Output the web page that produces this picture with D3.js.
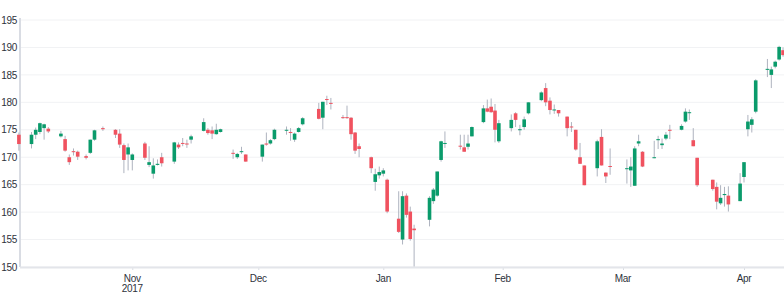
<!DOCTYPE html>
<html>
<head>
<meta charset="utf-8">
<script src="https://cdn.jsdelivr.net/npm/d3@7"></script>
<style>
  body { margin: 0; background: #fff; }
  svg { display: block; font-family: "Liberation Sans", Arial, sans-serif; }
</style>
</head>
<body>
<svg id="chart" width="784" height="300"></svg>
<script>
// daily candles, Oct 2017 - Apr 2018
const dates = [
  // Oct
  "2017-10-05","2017-10-08","2017-10-09","2017-10-10","2017-10-11","2017-10-12","2017-10-15","2017-10-16",
  "2017-10-17","2017-10-18","2017-10-19","2017-10-21","2017-10-22","2017-10-23","2017-10-25","2017-10-28",
  "2017-10-29","2017-10-30","2017-10-31",
  // Nov
  "2017-11-01","2017-11-04","2017-11-05","2017-11-06","2017-11-07","2017-11-08","2017-11-11","2017-11-12",
  "2017-11-13","2017-11-14","2017-11-15","2017-11-18","2017-11-19","2017-11-20","2017-11-21","2017-11-22",
  "2017-11-25","2017-11-26","2017-11-27","2017-11-28",
  // Dec
  "2017-12-02","2017-12-03","2017-12-04","2017-12-05","2017-12-08","2017-12-09","2017-12-10","2017-12-11",
  "2017-12-12","2017-12-16","2017-12-17","2017-12-18","2017-12-19","2017-12-22","2017-12-23","2017-12-24",
  "2017-12-25","2017-12-26","2017-12-29","2017-12-30","2017-12-31",
  // Jan
  "2018-01-01","2018-01-02","2018-01-05","2018-01-06","2018-01-07","2018-01-08","2018-01-09","2018-01-13",
  "2018-01-14","2018-01-15","2018-01-16","2018-01-17","2018-01-21","2018-01-22","2018-01-23","2018-01-24",
  "2018-01-27","2018-01-28","2018-01-29","2018-01-30","2018-01-31",
  // Feb
  "2018-02-03","2018-02-04","2018-02-05","2018-02-06","2018-02-07","2018-02-10","2018-02-11","2018-02-12",
  "2018-02-13","2018-02-14","2018-02-16","2018-02-17","2018-02-18","2018-02-19","2018-02-20","2018-02-23",
  "2018-02-24","2018-02-25","2018-02-26",
  // Mar
  "2018-03-02","2018-03-03","2018-03-04","2018-03-05","2018-03-06","2018-03-09","2018-03-10","2018-03-11",
  "2018-03-12","2018-03-13","2018-03-16","2018-03-17","2018-03-18","2018-03-19","2018-03-20","2018-03-24",
  "2018-03-25","2018-03-26","2018-03-27","2018-03-28","2018-03-31",
  // Apr
  "2018-04-01","2018-04-02","2018-04-03","2018-04-04","2018-04-07","2018-04-08","2018-04-09","2018-04-10",
  "2018-04-11"
];

const opens = [
  174.1,172.4,174.1,174.6,175.3,175.2,173.8,173.3,170.0,171.1,171.0,170.2,170.8,173.2,175.3,175.0,174.3,172.2,170.5,
  169.5,172.5,168.6,167.0,168.6,170.0,169.2,172.3,172.6,172.5,173.2,174.8,175.0,174.9,174.2,174.6,170.8,170.0,171.0,170.5,
  170.1,172.5,172.5,173.3,175.0,174.6,173.2,174.6,176.0,178.8,177.2,180.6,179.9,177.3,177.3,177.2,174.5,172.0,170.0,165.5,166.7,
  167.0,165.9,158.8,155.0,163.0,160.1,157.0,158.6,162.0,163.0,169.5,172.5,172.1,171.8,171.9,173.8,176.4,178.9,179.2,178.5,172.9,
  175.3,178.0,175.0,175.5,178.0,180.4,182.6,180.3,178.6,178.6,177.4,175.6,175.0,170.0,168.5,168.0,173.7,167.2,168.4,
  167.9,167.6,164.8,172.5,171.0,169.9,173.1,172.2,173.4,175.0,175.0,176.5,178.1,173.1,169.9,165.9,164.6,161.6,163.1,163.0,162.0,
  166.4,175.1,175.9,178.3,186.0,185.0,186.5,187.8,189.5
];
const highs = [
  174.5,174.6,175.4,176.3,176.1,175.5,174.8,173.9,170.5,171.6,171.2,170.5,173.2,175.0,175.6,175.1,175.1,172.5,172.5,
  170.7,172.8,172.0,169.8,169.6,170.8,172.8,172.7,173.5,173.2,174.1,177.1,175.3,175.6,176.1,175.2,171.4,170.8,171.9,170.5,
  172.3,174.5,173.3,175.2,175.6,175.3,174.5,175.5,177.3,179.9,180.1,181.2,180.8,177.7,179.4,177.3,174.6,172.5,170.1,167.9,168.3,
  168.0,166.1,163.8,163.8,163.4,161.0,157.7,162.9,164.4,167.4,173.0,174.7,174.1,174.1,174.1,175.6,179.5,180.5,180.7,179.7,176.8,
  177.8,178.2,175.9,177.4,180.0,182.0,183.5,180.9,179.6,178.6,177.4,176.4,175.0,172.6,168.5,173.2,175.1,167.2,171.6,
  169.6,170.0,172.0,174.1,171.1,173.0,173.9,173.4,174.6,175.9,176.0,178.9,178.7,175.3,169.9,165.9,165.4,164.9,164.6,164.7,167.1,
  169.1,177.7,177.3,184.2,187.9,186.5,187.6,190.3,190.0
];
const lows = [
  171.2,171.6,173.3,174.2,173.2,174.4,173.6,171.0,168.6,170.3,169.5,169.6,170.6,173.0,174.8,173.5,171.7,167.1,167.6,
  167.6,169.5,168.2,166.1,168.5,168.3,168.8,171.5,172.0,171.7,172.5,174.7,174.1,173.3,174.1,174.5,169.7,169.7,170.6,169.2,
  169.2,172.1,172.3,173.1,174.1,173.0,172.8,174.5,175.8,176.9,175.1,179.5,178.7,177.0,177.0,173.2,170.6,170.0,167.1,163.9,166.1,
  166.5,159.8,156.2,154.1,159.0,154.8,150.1,157.4,161.5,162.8,169.2,171.7,171.4,171.0,171.4,173.8,176.2,178.2,178.1,172.7,172.6,
  174.7,175.5,174.0,175.0,177.8,180.2,179.3,177.8,177.9,177.4,173.8,174.6,171.2,168.8,164.9,166.5,168.5,165.3,166.8,
  165.2,164.6,164.8,172.0,168.2,169.8,171.5,171.5,173.1,173.3,174.9,176.3,176.8,172.0,164.6,163.9,160.5,161.3,161.0,160.1,162.0,
  165.4,173.8,174.5,178.0,184.6,182.6,186.2,187.6,188.3
];
const closes = [
  172.4,174.1,175.0,176.2,176.0,174.7,174.3,171.2,169.1,171.0,170.1,169.9,173.2,174.9,175.1,174.1,172.3,169.5,171.8,
  170.5,169.9,169.1,168.5,168.8,168.9,172.7,171.8,172.5,172.4,173.8,176.4,174.4,174.3,175.0,175.1,170.7,170.6,171.1,169.2,
  172.3,172.3,173.1,175.0,175.0,174.5,174.3,175.3,177.1,177.0,180.1,180.5,179.8,177.2,177.2,174.2,171.2,171.5,168.0,166.9,167.3,
  167.6,160.1,156.4,162.9,159.5,155.1,156.7,162.6,164.1,167.4,172.9,172.6,172.0,171.0,172.5,175.5,178.9,178.3,178.2,175.0,176.2,
  176.8,176.8,175.1,176.9,180.0,181.8,180.0,178.6,178.7,178.0,175.3,175.5,171.4,168.8,164.9,172.9,168.5,166.5,168.3,
  168.0,168.3,171.6,172.9,168.3,170.0,173.3,172.5,174.1,174.9,175.7,178.3,178.2,172.0,164.9,164.2,161.9,162.6,163.3,161.4,165.2,
  169.1,176.5,176.9,184.0,186.1,186.0,187.4,190.1,188.6
];

const yTicks = [150, 155, 160, 165, 170, 175, 180, 185, 190, 195];
const monthTicks = ["2017-11-01","2017-12-01","2018-01-01","2018-02-01","2018-03-01","2018-04-01"];
const monthLabels = ["Nov", "Dec", "Jan", "Feb", "Mar", "Apr"];
const yearLabels = ["2017", "", "", "", "", ""];

const upColor = "#0a9b6b";
const downColor = "#f0525f";
const wickColor = "#aeb3bf";
const labelColor = "#2e323b";

const parse = d3.timeParse("%Y-%m-%d");
const candles = dates.map((d, i) => ({
  date: parse(d), open: opens[i], high: highs[i], low: lows[i], close: closes[i]
}));
const monthDates = monthTicks.map(parse);

const svg = d3.select("#chart");
const width = 784, height = 300;
const plotLeft = 20, plotTop = 20, plotBottom = 267;

// month ticks are not evenly spaced in the original, so calibrate per month
const x = d3.scaleTime()
  .domain(monthDates)
  .range([132.3, 258.3, 383.3, 502.7, 623, 744]);

const y = d3.scaleLinear()
  .domain([150, 195])
  .range([plotBottom, plotTop]);

// grid
svg.append("g")
  .selectAll("line")
  .data(yTicks)
  .join("line")
  .attr("x1", plotLeft)
  .attr("x2", width)
  .attr("y1", d => y(d))
  .attr("y2", d => y(d))
  .attr("stroke", "#f1f2f4")
  .attr("stroke-width", 1);

// y axis
const yAxis = svg.append("g")
  .attr("transform", `translate(${plotLeft - 2},0)`)
  .call(d3.axisLeft(y).tickValues(yTicks).tickSize(0).tickPadding(1));
yAxis.select(".domain").remove();
yAxis.selectAll("text")
  .style("font-size", "10px")
  .style("font-family", "'Liberation Sans', Arial, sans-serif")
  .style("letter-spacing", "-0.3px")
  .attr("fill", labelColor);

svg.append("line")
  .attr("x1", plotLeft).attr("x2", plotLeft)
  .attr("y1", plotTop - 2).attr("y2", plotBottom)
  .attr("stroke", "#d9dce3")
  .attr("stroke-width", 2);

// x axis
const xAxis = svg.append("g")
  .attr("transform", `translate(0,${plotBottom})`)
  .call(d3.axisBottom(x).tickValues(monthDates).tickSize(3).tickFormat(""));
xAxis.select(".domain").remove();
xAxis.selectAll(".tick line").attr("stroke", "#d9dce3");

svg.append("line")
  .attr("x1", plotLeft).attr("x2", width)
  .attr("y1", plotBottom + 0.5).attr("y2", plotBottom + 0.5)
  .attr("stroke", "#e3e5ea")
  .attr("stroke-width", 2);

const xLabels = svg.append("g")
  .selectAll("text")
  .data(monthDates)
  .join("text")
  .attr("x", d => x(d))
  .attr("y", 282)
  .attr("text-anchor", "middle")
  .style("font-size", "10px")
  .style("letter-spacing", "-0.3px")
  .attr("fill", labelColor);
xLabels.append("tspan").text((d, i) => monthLabels[i]);
xLabels.append("tspan")
  .attr("x", d => x(d))
  .attr("dy", 10)
  .text((d, i) => yearLabels[i]);

// candles
const bodyW = 3.6;
const g = svg.append("g");

g.selectAll("line.wick")
  .data(candles)
  .join("line")
  .attr("class", "wick")
  .attr("x1", d => x(d.date))
  .attr("x2", d => x(d.date))
  .attr("y1", d => y(d.high))
  .attr("y2", d => y(d.low))
  .attr("stroke", wickColor)
  .attr("stroke-width", 1);

g.selectAll("rect.body")
  .data(candles)
  .join("rect")
  .attr("class", "body")
  .attr("x", d => x(d.date) - bodyW / 2)
  .attr("y", d => y(Math.max(d.open, d.close)))
  .attr("width", bodyW)
  .attr("height", d => Math.max(1, Math.abs(y(d.open) - y(d.close))))
  .attr("fill", d => d.close >= d.open ? upColor : downColor);
</script>
</body>
</html>
